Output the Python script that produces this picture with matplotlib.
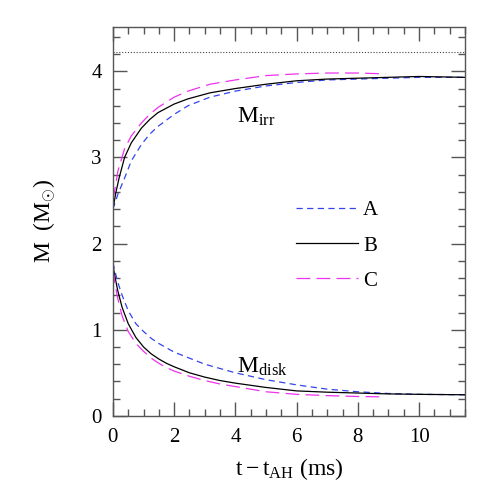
import matplotlib
matplotlib.use("Agg")
import matplotlib.pyplot as plt
from matplotlib.ticker import MultipleLocator
from matplotlib.lines import Line2D

plt.rcParams['font.family'] = ['Liberation Serif', 'DejaVu Serif']
plt.rcParams['mathtext.fontset'] = 'custom'
plt.rcParams['mathtext.rm'] = 'Liberation Serif'
plt.rcParams['mathtext.it'] = 'Liberation Serif'

# ---- data ----
t_A = [0, 0.16, 0.38, 0.6, 0.93, 1.2, 1.47, 2.0, 2.45, 3.17, 4.0, 5.0, 6.0, 7.0, 8.0, 9.0, 10.0, 11.5]
mirr_A = [2.40, 2.57, 2.76, 2.96, 3.15, 3.27, 3.36, 3.50, 3.60, 3.70, 3.77, 3.83, 3.87, 3.90, 3.91, 3.92, 3.93, 3.93]

t_B = [0, 0.1, 0.2, 0.38, 0.6, 0.93, 1.2, 1.47, 2.0, 2.45, 3.17, 4.0, 5.0, 6.0, 7.0, 8.0, 9.0, 10.0, 11.5]
mirr_B = [2.40, 2.60, 2.76, 3.00, 3.17, 3.34, 3.44, 3.52, 3.62, 3.68, 3.75, 3.80, 3.85, 3.89, 3.91, 3.92, 3.93, 3.94, 3.93]

t_C = [0, 0.1, 0.16, 0.38, 0.6, 0.93, 1.2, 1.47, 2.0, 2.45, 3.17, 4.0, 5.0, 6.0, 7.0, 8.0, 8.9]
mirr_C = [2.50, 2.70, 2.84, 3.10, 3.25, 3.40, 3.50, 3.58, 3.70, 3.77, 3.85, 3.90, 3.95, 3.97, 3.98, 3.98, 3.97]

td_A = [0, 0.08, 0.16, 0.3, 0.5, 0.75, 1.0, 1.25, 1.5, 1.75, 2.0, 2.5, 3.0, 3.5, 4.0, 5.0, 6.0, 7.0, 8.0, 9.0, 10.0, 11.5]
mdisk_A = [1.78, 1.66, 1.55, 1.40, 1.22, 1.07, 0.98, 0.90, 0.84, 0.79, 0.74, 0.67, 0.60, 0.55, 0.50, 0.42, 0.36, 0.31, 0.28, 0.26, 0.25, 0.245]

td_B = [0, 0.08, 0.16, 0.3, 0.5, 0.75, 1.0, 1.25, 1.5, 1.75, 2.0, 2.5, 3.0, 3.5, 4.0, 5.0, 6.0, 7.0, 8.0, 9.0, 10.0, 11.5]
mdisk_B = [1.75, 1.59, 1.45, 1.26, 1.07, 0.91, 0.80, 0.72, 0.66, 0.61, 0.57, 0.50, 0.45, 0.41, 0.38, 0.33, 0.29, 0.275, 0.265, 0.255, 0.25, 0.245]

td_C = [0, 0.08, 0.16, 0.3, 0.5, 0.75, 1.0, 1.25, 1.5, 1.75, 2.0, 2.5, 3.0, 3.5, 4.0, 5.0, 6.0, 7.0, 8.0, 8.9]
mdisk_C = [1.70, 1.51, 1.36, 1.16, 0.98, 0.84, 0.75, 0.67, 0.61, 0.56, 0.52, 0.46, 0.41, 0.37, 0.34, 0.28, 0.25, 0.235, 0.225, 0.22]

m_total = 4.22
labels = ['A', 'B', 'C']

# ---- styles ----
colA, colB, colC = '#3344ee', 'black', '#ee33ee'
lsA = (0, (5, 3.5))
lsC = (0, (11, 5))

fig = plt.figure(figsize=(4.91, 4.91), dpi=100)
ax = fig.add_axes([0.230, 0.153, 0.717, 0.793])

ax.axhline(m_total, color='#444444', lw=0.8, ls=(0, (1, 1.6)))

ax.plot(t_A, mirr_A, color=colA, lw=0.9, ls=lsA)
ax.plot(t_B, mirr_B, color=colB, lw=0.9, ls='-')
ax.plot(t_C, mirr_C, color=colC, lw=0.9, ls=lsC)
ax.plot(td_A, mdisk_A, color=colA, lw=0.9, ls=lsA)
ax.plot(td_B, mdisk_B, color=colB, lw=0.9, ls='-')
ax.plot(td_C, mdisk_C, color=colC, lw=0.9, ls=lsC)

ax.set_xlim(0, 11.5)
ax.set_ylim(0, 4.52)
ax.xaxis.set_major_locator(MultipleLocator(2))
ax.xaxis.set_minor_locator(MultipleLocator(0.5))
ax.yaxis.set_major_locator(MultipleLocator(1))
ax.yaxis.set_minor_locator(MultipleLocator(0.2))
ax.tick_params(which='both', direction='in', top=True, right=True,
               color='#555555', width=1.0, labelsize=15)
ax.tick_params(which='major', length=10)
ax.tick_params(which='minor', length=5)
ax.tick_params(axis='x', which='major', pad=9)
ax.tick_params(axis='y', which='major', pad=8)
for s in ax.spines.values():
    s.set_color('#555555')
    s.set_linewidth(1.0)

ax.set_xlabel(r'$\mathrm{t}-\mathrm{t}_{\mathrm{AH}}$ (ms)', fontsize=17, labelpad=6)
ax.set_ylabel(r'M  (M$_{\odot}$)', fontsize=17, labelpad=24)

ax.text(4.05, 3.40, r'M$_{\mathrm{irr}}$', fontsize=17)
ax.text(4.05, 0.50, r'M$_{\mathrm{disk}}$', fontsize=17)

handles = [Line2D([], [], color=colA, lw=0.9, ls=lsA),
           Line2D([], [], color=colB, lw=0.9, ls='-'),
           Line2D([], [], color=colC, lw=0.9, ls=lsC)]
leg = ax.legend(handles, labels, loc='center left', bbox_to_anchor=(0.468, 0.437),
                frameon=False, fontsize=15, handlelength=2.95, handletextpad=0.25,
                labelspacing=0.75)

fig.savefig('out.png', dpi=100)
